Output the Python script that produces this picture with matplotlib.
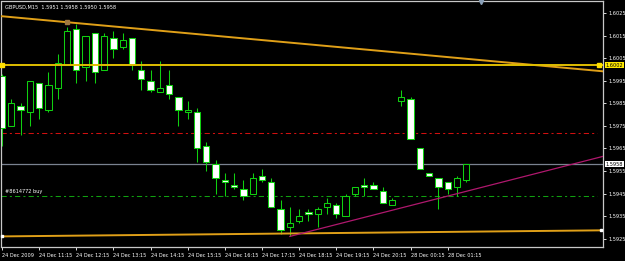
import numpy as np
import matplotlib
matplotlib.use("Agg")
import matplotlib.pyplot as plt

# GBPUSD M15 bars, first bar = 24 Dec 2009 10:15
opens = [1.5997, 1.5975, 1.5984, 1.5981, 1.5994, 1.5982, 1.5992, 1.6002, 1.6018, 1.6001,
         1.6016, 1.6000, 1.6014, 1.6010, 1.6014, 1.6000, 1.5995, 1.5990, 1.5993, 1.5988,
         1.5981, 1.5981, 1.5966, 1.5958, 1.5951, 1.5949, 1.5947, 1.5945, 1.5953, 1.5950,
         1.5938, 1.5930, 1.5933, 1.5937, 1.5936, 1.5939, 1.5940, 1.5935, 1.5945, 1.5949,
         1.5949, 1.5946, 1.5940, 1.5986, 1.5987, 1.5965, 1.5954, 1.5952, 1.5950, 1.5948,
         1.5951]
highs = [1.5998, 1.5987, 1.5985, 1.5995, 1.5994, 1.5999, 1.6007, 1.6019, 1.6020, 1.6015,
         1.6016, 1.6016, 1.6017, 1.6016, 1.6014, 1.6004, 1.6000, 1.6004, 1.6000, 1.5988,
         1.5986, 1.5983, 1.5968, 1.5960, 1.5954, 1.5954, 1.5951, 1.5954, 1.5956, 1.5952,
         1.5942, 1.5939, 1.5938, 1.5938, 1.5939, 1.5943, 1.5941, 1.5945, 1.5948, 1.5952,
         1.5950, 1.5948, 1.5943, 1.5991, 1.5988, 1.5965, 1.5954, 1.5952, 1.5950, 1.5953,
         1.5958]
lows = [1.5966, 1.5975, 1.5971, 1.5975, 1.5978, 1.5981, 1.5987, 1.6002, 1.5994, 1.5995,
        1.5994, 1.6000, 1.6005, 1.6009, 1.6000, 1.5991, 1.5990, 1.5990, 1.5987, 1.5975,
        1.5978, 1.5959, 1.5955, 1.5945, 1.5944, 1.5947, 1.5942, 1.5945, 1.5950, 1.5939,
        1.5927, 1.5926, 1.5932, 1.5933, 1.5930, 1.5936, 1.5934, 1.5935, 1.5944, 1.5944,
        1.5947, 1.5941, 1.5940, 1.5984, 1.5969, 1.5956, 1.5953, 1.5938, 1.5945, 1.5944,
        1.5950]
closes = [1.5974, 1.5985, 1.5982, 1.5995, 1.5983, 1.5993, 1.6003, 1.6017, 1.6000, 1.6015,
          1.5999, 1.6015, 1.6009, 1.6013, 1.6002, 1.5996, 1.5991, 1.5992, 1.5989, 1.5982,
          1.5982, 1.5965, 1.5959, 1.5952, 1.5950, 1.5948, 1.5944, 1.5952, 1.5951, 1.5939,
          1.5929, 1.5932, 1.5935, 1.5936, 1.5938, 1.5941, 1.5936, 1.5944, 1.5948, 1.5948,
          1.5947, 1.5941, 1.5942, 1.5988, 1.5969, 1.5956, 1.5953, 1.5948, 1.5947, 1.5952,
          1.5958]

time_ticks = [0, 4, 8, 12, 16, 20, 24, 28, 32, 36, 40, 44, 48]
time_labels = ["24 Dec 2009", "24 Dec 11:15", "24 Dec 12:15", "24 Dec 13:15", "24 Dec 14:15",
               "24 Dec 15:15", "24 Dec 16:15", "24 Dec 17:15", "24 Dec 18:15", "24 Dec 19:15",
               "24 Dec 20:15", "28 Dec 00:15", "28 Dec 01:15"]
price_ticks = [1.6025, 1.6015, 1.6005, 1.5995, 1.5985, 1.5975, 1.5965, 1.5955, 1.5945, 1.5935, 1.5925]

hline_level = 1.6002     # yellow horizontal line
tp_level = 1.5972        # red dash-dot
bid_level = 1.5958       # grey bid line
order_level = 1.5944     # green order line
order_label = "#8614772 buy"
header = "GBPUSD,M15  1.5951 1.5958 1.5950 1.5958"

# trend lines as (bar, price) anchor pairs
top_trend = [(7, 1.6021), (60, 1.6001)]
bottom_trend = [(0, 1.5926), (60, 1.59285)]
pink_trend = [(31, 1.5926), (50, 1.5946)]

o = np.array(opens); h = np.array(highs); l = np.array(lows); c = np.array(closes)
x = np.arange(len(o))
XMIN, XMAX = -0.05, 64.72
YMIN, YMAX = 1.59213, 1.60304

fig = plt.figure(figsize=(6.25, 2.61), dpi=100, facecolor="black")
ax = fig.add_axes([1.5 / 625, 14 / 261, 601.5 / 625, 246 / 261])
ax.set_facecolor("black")
ax.set_xlim(XMIN, XMAX)
ax.set_ylim(YMIN, YMAX)

green = "#10D010"
# horizontal levels (behind candles)
dd = (0, (5, 3, 2, 3))
ax.axhline(tp_level, xmax=0.99, color="#D01010", lw=0.75, linestyle=dd, zorder=1)
ax.axhline(order_level, xmax=0.99, color="#10A010", lw=0.75, linestyle=dd, zorder=1)
ax.axhline(bid_level, color="#7A8290", lw=0.9, zorder=1)
ax.text(0.006, order_level + 0.00006, order_label, color="white", fontsize=3.6, va="bottom",
        transform=ax.get_yaxis_transform(), zorder=4)

# candles
ax.vlines(x, l, h, color=green, lw=0.75, zorder=2)
bull = c >= o
body_lo = np.minimum(o, c)
body_h = np.maximum(np.abs(c - o), 0.00003)
ax.bar(x, body_h, bottom=body_lo, width=0.68, color=np.where(bull, "black", "white"),
       edgecolor=green, linewidth=0.75, zorder=3)

# trend lines
def ray(points, x0, x1):
    (xa, ya), (xb, yb) = points
    k = (yb - ya) / (xb - xa)
    return [x0, x1], [ya + k * (x0 - xa), ya + k * (x1 - xa)]

xs, ys = ray(top_trend, XMIN, XMAX)
ax.plot(xs, ys, color="#E0A018", lw=1.4, zorder=4)
ax.plot(*top_trend[0], marker="s", ms=2.5, color="#A07840", zorder=5)
xs, ys = ray(bottom_trend, XMIN, XMAX)
ax.plot(xs, ys, color="#E0A018", lw=1.4, zorder=4)
ax.plot([0.05, XMAX - 0.2], [bottom_trend[0][1], ys[1]], "s", ms=2, color="white",
        linestyle="none", zorder=5, clip_on=False)
xs, ys = ray(pink_trend, pink_trend[0][0], XMAX)
ax.plot(xs, ys, color="#B0186E", lw=0.9, zorder=4)
ax.axhline(hline_level, color="#E0BE00", lw=1.4, zorder=4)
ax.plot([0.05, XMAX - 0.4], [hline_level, hline_level], "s", ms=2.5, color="#FFE000",
        linestyle="none", zorder=5, clip_on=False)

# frame and axes
for s in ax.spines.values():
    s.set_color("#C8C8C8")
    s.set_linewidth(0.9)
ax.yaxis.tick_right()
ax.set_yticks(price_ticks)
ax.set_yticklabels([f"{p:.4f}" for p in price_ticks])
ax.set_xticks(time_ticks)
ax.set_xticklabels(time_labels)
for lab in ax.get_xticklabels():
    lab.set_ha("left")
ax.tick_params(colors="white", labelsize=3.6, length=2.5, width=0.6, pad=1.5)
ax.tick_params(axis="x", pad=2)

# price boxes on axis
ytr = ax.get_yaxis_transform()
ax.text(1.004, hline_level, f"{hline_level:.4f}", transform=ytr, fontsize=3.6, color="black",
        va="center", ha="left", zorder=6, clip_on=False,
        bbox=dict(boxstyle="square,pad=0.15", fc="#FFE800", ec="none"))
ax.text(1.004, bid_level, f"{bid_level:.4f}", transform=ytr, fontsize=3.6, color="black",
        va="center", ha="left", zorder=6, clip_on=False,
        bbox=dict(boxstyle="square,pad=0.15", fc="white", ec="none"))

ax.text(0.005, 0.985, header, transform=ax.transAxes, color="white", fontsize=3.6,
        va="top", ha="left", zorder=6)
ax.plot([0.797], [0.995], marker="v", ms=3, color="#8AA0B8", transform=ax.transAxes,
        clip_on=False, zorder=6)

fig.savefig("out.png", dpi=100, facecolor="black")
